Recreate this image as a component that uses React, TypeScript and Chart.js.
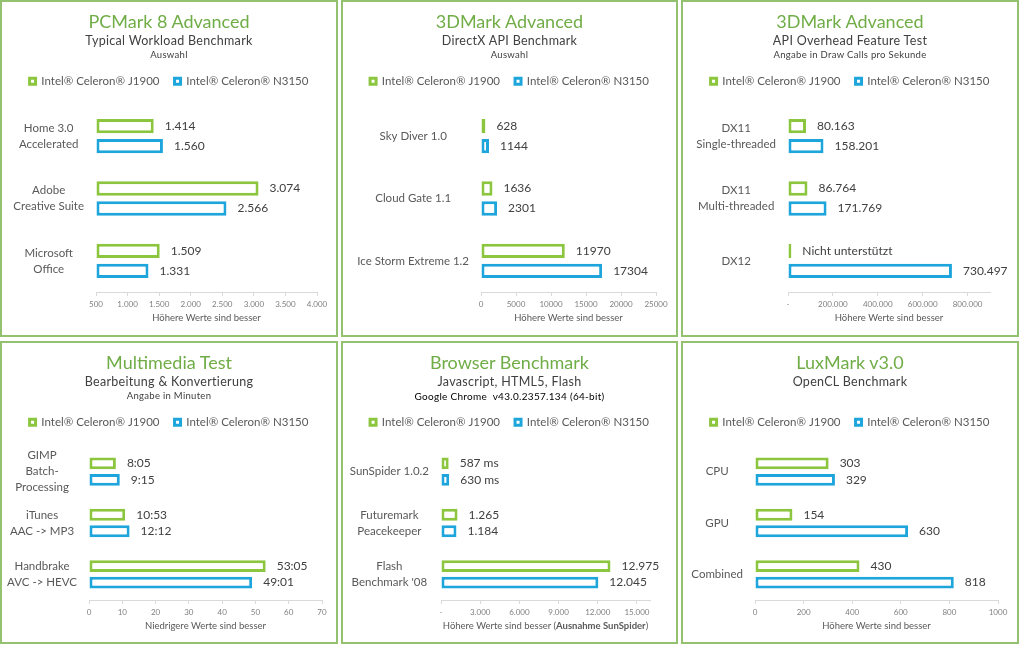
import React, { useEffect, useRef } from "react";
import { Chart, registerables } from "chart.js";
Chart.register(...registerables);

const FONT = "Lato, 'Open Sans', sans-serif";
const GREEN = "#8cc63f";
const BLUE = "#1ea6dc";
const TITLE_GREEN = "#70ad47";
const FRAME = "#93c170";
const SERIES_A = "Intel® Celeron® J1900";
const SERIES_B = "Intel® Celeron® N3150";

// ---- Panel 1: PCMark 8 Advanced
const pcmCategories = [["Home 3.0", "Accelerated"], ["Adobe", "Creative Suite"], ["Microsoft", "Office"]];
const pcmJ1900 = [1414, 3074, 1509];
const pcmN3150 = [1560, 2566, 1331];
const pcmJ1900Labels = ["1.414", "3.074", "1.509"];
const pcmN3150Labels = ["1.560", "2.566", "1.331"];
const pcmTickValues = [500, 1000, 1500, 2000, 2500, 3000, 3500, 4000];
const pcmTickLabels = ["500", "1.000", "1.500", "2.000", "2.500", "3.000", "3.500", "4.000"];

// ---- Panel 2: 3DMark DirectX
const dxCategories = ["Sky Diver 1.0", "Cloud Gate 1.1", "Ice Storm Extreme 1.2"];
const dxJ1900 = [628, 1636, 11970];
const dxN3150 = [1144, 2301, 17304];
const dxJ1900Labels = ["628", "1636", "11970"];
const dxN3150Labels = ["1144", "2301", "17304"];
const dxTickValues = [0, 5000, 10000, 15000, 20000, 25000];
const dxTickLabels = ["0", "5000", "10000", "15000", "20000", "25000"];

// ---- Panel 3: 3DMark API Overhead
const apiCategories = [["DX11", "Single-threaded"], ["DX11", "Multi-threaded"], "DX12"];
const apiJ1900 = [80163, 86764, 15000];
const apiN3150 = [158201, 171769, 730497];
const apiJ1900Labels = ["80.163", "86.764", "Nicht unterstützt"];
const apiN3150Labels = ["158.201", "171.769", "730.497"];
const apiTickValues = [0, 200000, 400000, 600000, 800000];
const apiTickLabels = ["-", "200.000", "400.000", "600.000", "800.000"];

// ---- Panel 4: Multimedia (minutes)
const mmCategories = [["GIMP", "Batch-", "Processing"], ["iTunes", "AAC -> MP3"], ["Handbrake", "AVC -> HEVC"]];
const mmJ1900 = [8.08, 10.88, 53.08];
const mmN3150 = [9.25, 12.2, 49.02];
const mmJ1900Labels = ["8:05", "10:53", "53:05"];
const mmN3150Labels = ["9:15", "12:12", "49:01"];
const mmTickValues = [0, 10, 20, 30, 40, 50, 60, 70];
const mmTickLabels = ["0", "10", "20", "30", "40", "50", "60", "70"];

// ---- Panel 5: Browser
const brCategories = ["SunSpider 1.0.2", ["Futuremark", "Peacekeeper"], ["Flash", "Benchmark '08"]];
const brJ1900 = [587, 1265, 12975];
const brN3150 = [630, 1184, 12045];
const brJ1900Labels = ["587 ms", "1.265", "12.975"];
const brN3150Labels = ["630 ms", "1.184", "12.045"];
const brTickValues = [0, 3000, 6000, 9000, 12000, 15000];
const brTickLabels = ["-", "3.000", "6.000", "9.000", "12.000", "15.000"];

// ---- Panel 6: LuxMark
const luxCategories = ["CPU", "GPU", "Combined"];
const luxJ1900 = [303, 154, 430];
const luxN3150 = [329, 630, 818];
const luxJ1900Labels = ["303", "154", "430"];
const luxN3150Labels = ["329", "630", "818"];
const luxTickValues = [0, 200, 400, 600, 800, 1000];
const luxTickLabels = ["0", "200", "400", "600", "800", "1000"];

type PanelDef = {
  title: string;
  subtitle: string;
  note: string;
  noteDark?: boolean;
  categories: any[];
  a: number[];
  b: number[];
  aLabels: string[];
  bLabels: string[];
  min: number;
  max: number;
  tickValues: number[];
  tickLabels: string[];
  axisTitle: React.ReactNode;
  left: number;
  top: number;
  w: number;
  h: number;
  yWidth: number;
  padRight: number;
};

const HIGHER = "Höhere Werte sind besser";

const panels: PanelDef[] = [
  {
    title: "PCMark 8 Advanced", subtitle: "Typical Workload Benchmark", note: "Auswahl",
    categories: pcmCategories, a: pcmJ1900, b: pcmN3150, aLabels: pcmJ1900Labels, bLabels: pcmN3150Labels,
    min: 500, max: 4000, tickValues: pcmTickValues, tickLabels: pcmTickLabels, axisTitle: HIGHER,
    left: 0, top: 0, w: 338, h: 337, yWidth: 94, padRight: 19,
  },
  {
    title: "3DMark Advanced", subtitle: "DirectX API Benchmark", note: "Auswahl",
    categories: dxCategories, a: dxJ1900, b: dxN3150, aLabels: dxJ1900Labels, bLabels: dxN3150Labels,
    min: 0, max: 25000, tickValues: dxTickValues, tickLabels: dxTickLabels, axisTitle: HIGHER,
    left: 341, top: 0, w: 337, h: 337, yWidth: 138, padRight: 20,
  },
  {
    title: "3DMark Advanced", subtitle: "API Overhead Feature Test", note: "Angabe in Draw Calls pro Sekunde",
    categories: apiCategories, a: apiJ1900, b: apiN3150, aLabels: apiJ1900Labels, bLabels: apiN3150Labels,
    min: 0, max: 900000, tickValues: apiTickValues, tickLabels: apiTickLabels, axisTitle: HIGHER,
    left: 681, top: 0, w: 338, h: 337, yWidth: 105, padRight: 27,
  },
  {
    title: "Multimedia Test", subtitle: "Bearbeitung & Konvertierung", note: "Angabe in Minuten",
    categories: mmCategories, a: mmJ1900, b: mmN3150, aLabels: mmJ1900Labels, bLabels: mmN3150Labels,
    min: 0, max: 70, tickValues: mmTickValues, tickLabels: mmTickLabels, axisTitle: "Niedrigere Werte sind besser",
    left: 0, top: 341, w: 338, h: 303, yWidth: 87, padRight: 14,
  },
  {
    title: "Browser Benchmark", subtitle: "Javascript, HTML5, Flash", note: "Google Chrome  v43.0.2357.134 (64-bit)", noteDark: true,
    categories: brCategories, a: brJ1900, b: brN3150, aLabels: brJ1900Labels, bLabels: brN3150Labels,
    min: 0, max: 16000, tickValues: brTickValues, tickLabels: brTickLabels,
    axisTitle: (<span>Höhere Werte sind besser (<b>Ausnahme SunSpider</b>)</span>),
    left: 341, top: 341, w: 337, h: 303, yWidth: 98, padRight: 26,
  },
  {
    title: "LuxMark v3.0", subtitle: "OpenCL Benchmark", note: "",
    categories: luxCategories, a: luxJ1900, b: luxN3150, aLabels: luxJ1900Labels, bLabels: luxN3150Labels,
    min: 0, max: 1000, tickValues: luxTickValues, tickLabels: luxTickLabels, axisTitle: HIGHER,
    left: 681, top: 341, w: 338, h: 303, yWidth: 72, padRight: 19,
  },
];

const PLOT_TOP = 103;
const LEGEND_FONT = 11.5;
const LEGEND_PAD = 15;
const LEGEND_EXTRA = 8;
const LEGEND_H = LEGEND_FONT + LEGEND_PAD + 10;

const valueLabelPlugin = {
  id: "valueLabels",
  afterDatasetsDraw(chart: any) {
    const ctx = chart.ctx;
    ctx.save();
    ctx.font = `12px ${FONT}`;
    ctx.fillStyle = "#404040";
    ctx.textBaseline = "middle";
    ctx.textAlign = "left";
    chart.data.datasets.forEach((ds: any, di: number) => {
      const meta = chart.getDatasetMeta(di);
      meta.data.forEach((bar: any, i: number) => {
        const { x, y } = bar.getProps(["x", "y"], true);
        ctx.fillText(ds.valueLabels[i], x + 11, y);
      });
    });
    ctx.restore();
  },
};

// legend uses the whole panel width (one row, centred) and leaves extra space below it
const legendSpacingPlugin = {
  id: "legendSpacing",
  beforeLayout(chart: any) {
    const lg = chart.legend;
    if (lg && !lg.__spaced) {
      const orig = lg.fit.bind(lg);
      lg.fit = function () {
        this.maxWidth = chart.width;
        orig();
        this.height += LEGEND_EXTRA;
      };
      lg.__spaced = true;
    }
  },
  afterLayout(chart: any) {
    const lg = chart.legend;
    if (lg) {
      lg.left = 0;
      lg.right = chart.width;
      lg.width = chart.width;
    }
  },
};

function Panel({ p }: { p: PanelDef }) {
  const ref = useRef<HTMLCanvasElement | null>(null);
  const cw = p.w - 4;
  const ch = p.h - 4;
  const plotBottom = p.h === 337 ? 290 : 257;
  const xAxisH = ch - plotBottom;

  useEffect(() => {
    if (!ref.current) return;
    const common = {
      backgroundColor: "#ffffff",
      borderWidth: 3,
      borderSkipped: false,
      categoryPercentage: 0.64,
      barPercentage: 0.72,
      base: p.min,
    };
    const chart = new Chart(ref.current, {
      type: "bar",
      data: {
        labels: p.categories,
        datasets: [
          { ...common, label: SERIES_A, data: p.a, borderColor: GREEN, valueLabels: p.aLabels } as any,
          { ...common, label: SERIES_B, data: p.b, borderColor: BLUE, valueLabels: p.bLabels } as any,
        ],
      },
      options: {
        indexAxis: "y",
        animation: false,
        responsive: false,
        devicePixelRatio: 1,
        layout: { padding: { top: PLOT_TOP - LEGEND_H - LEGEND_EXTRA, right: p.padRight, left: 0, bottom: 0 } },
        plugins: {
          legend: {
            position: "top",
            labels: {
              boxWidth: 6,
              boxHeight: 6,
              padding: LEGEND_PAD,
              color: "#595959",
              font: { family: FONT, size: LEGEND_FONT },
            },
          },
          tooltip: { enabled: false },
        },
        scales: {
          x: {
            type: "linear",
            min: p.min,
            max: p.max,
            afterBuildTicks: (s: any) => {
              s.ticks = p.tickValues.map((v) => ({ value: v }));
            },
            afterFit: (s: any) => {
              s.height = xAxisH;
            },
            ticks: {
              callback: (_v: any, i: number) => p.tickLabels[i],
              color: "#808080",
              font: { family: FONT, size: 8 },
              padding: 4,
              maxRotation: 0,
              autoSkip: false,
            },
            grid: { drawOnChartArea: false, color: "#d9d9d9", tickLength: 4 },
            border: { color: "#d9d9d9" },
          },
          y: {
            afterFit: (s: any) => {
              s.width = p.yWidth;
            },
            ticks: {
              crossAlign: "center",
              color: "#595959",
              font: { family: FONT, size: 11.5, lineHeight: 1.39 },
              padding: 12,
              autoSkip: false,
            },
            grid: { display: false, drawTicks: false },
            border: { display: false },
          },
        },
      } as any,
      plugins: [valueLabelPlugin, legendSpacingPlugin],
    });
    return () => chart.destroy();
  }, []);

  return (
    <div
      style={{
        position: "absolute",
        left: p.left,
        top: p.top,
        width: p.w,
        height: p.h,
        border: `2px solid ${FRAME}`,
        boxSizing: "border-box",
        fontFamily: FONT,
      }}
    >
      <canvas ref={ref} width={cw} height={ch} style={{ position: "absolute", left: 0, top: 0, width: cw, height: ch }} />
      <div style={{ position: "absolute", left: 0, top: 9, width: cw, textAlign: "center", fontSize: 18, lineHeight: "20px", color: TITLE_GREEN }}>
        {p.title}
      </div>
      <div style={{ position: "absolute", left: 0, top: 31, width: cw, textAlign: "center", fontSize: 12.5, lineHeight: "16px", color: "#404040", letterSpacing: 0.3 }}>
        {p.subtitle}
      </div>
      {p.note ? (
        <div
          style={{
            position: "absolute", left: 0, top: 47, width: cw, textAlign: "center",
            fontSize: p.noteDark ? 10 : 9.5, lineHeight: "12px",
            color: p.noteDark ? "#000000" : "#404040", letterSpacing: 0.3,
            whiteSpace: "pre",
          }}
        >
          {p.note}
        </div>
      ) : null}
      <div
        style={{
          position: "absolute", left: p.yWidth, width: cw - p.yWidth - p.padRight,
          top: ch - (p.h === 337 ? 23 : 22), textAlign: "center",
          fontSize: 9.5, lineHeight: "12px", color: "#595959", whiteSpace: "nowrap",
        }}
      >
        {p.axisTitle}
      </div>
    </div>
  );
}

export default function App() {
  return (
    <div style={{ position: "absolute", left: 0, top: 0, width: 1020, height: 646, background: "#ffffff", overflow: "hidden" }}>
      {panels.map((p, i) => (
        <Panel key={i} p={p} />
      ))}
    </div>
  );
}
